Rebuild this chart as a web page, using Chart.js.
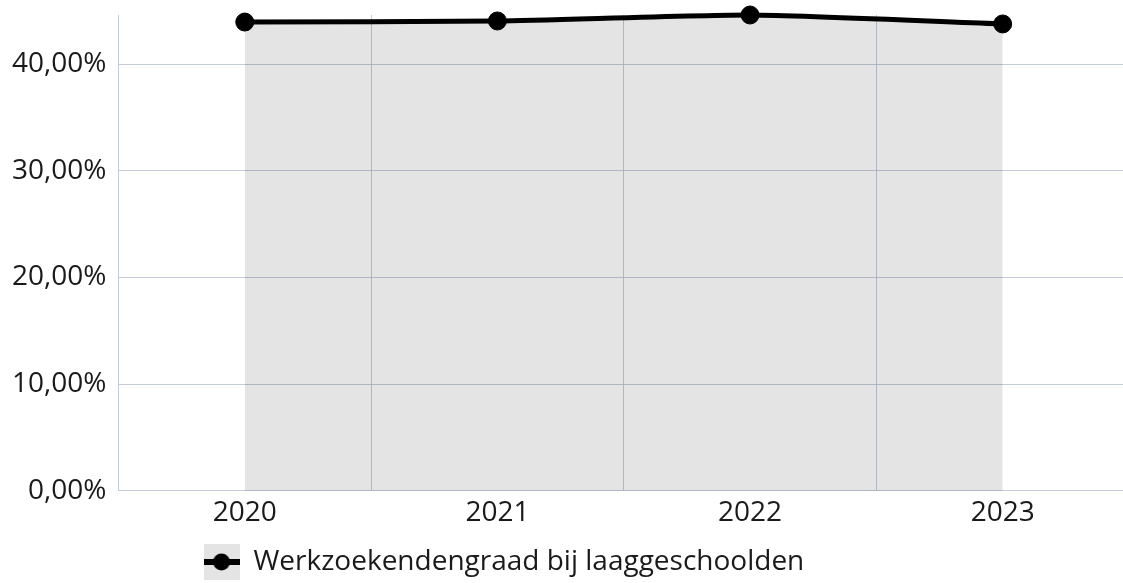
<!DOCTYPE html>
<html>
<head>
<meta charset="utf-8">
<script src="https://cdn.jsdelivr.net/npm/chart.js@4"></script>
<style>
  html, body { margin: 0; padding: 0; background: #fff; overflow: hidden; }
  .js-chart-container { position: relative; width: 1129px; height: 583px; }
</style>
</head>
<body>
<div class="js-chart-container"><canvas id="chart" width="1129" height="583"></canvas></div>
<script>
const years = ['2020', '2021', '2022', '2023']
const rates = [43.94, 44.04, 44.6, 43.76]
const seriesLabel = 'Werkzoekendengraad bij laaggeschoolden'

const gridColor = '#c4ccda'
const fillColor = 'rgba(0, 0, 0, 0.105)'

Chart.defaults.font.family = "'Open Sans', 'Noto Sans', sans-serif"
Chart.defaults.font.size = 28
Chart.defaults.color = '#1a1a1a'

// legend icon: grey square with the line and a dot through it
const icon = document.createElement('canvas')
icon.width = 36
icon.height = 36
const ictx = icon.getContext('2d')
ictx.fillStyle = '#e4e4e4'
ictx.fillRect(0, 0, 36, 36)
ictx.fillStyle = '#000'
ictx.fillRect(0, 15, 36, 6)
ictx.beginPath()
ictx.arc(18, 18, 8.5, 0, Math.PI * 2)
ictx.fill()

const formatPercent = (value) => `${Number(value).toFixed(2).replace('.', ',')}%`

// legend sits left of centre and low in the original, nudge it
const legendShift = {
  id: 'legendShift',
  afterLayout(chart) {
    const legend = chart.legend
    if (legend) {
      legend.left = 193
      legend.top += 3
      legend.bottom += 3
    }
  },
}

new Chart(document.getElementById('chart'), {
  type: 'line',
  data: {
    labels: years,
    datasets: [{
      label: seriesLabel,
      data: rates,
      borderColor: '#000',
      borderWidth: 5,
      backgroundColor: fillColor,
      fill: 'origin',
      tension: 0.2,
      pointRadius: 9,
      pointBorderWidth: 1,
      pointBackgroundColor: '#000',
      pointBorderColor: '#000',
      clip: false,
    }],
  },
  options: {
    responsive: false,
    animation: false,
    layout: {
      autoPadding: false,
      padding: { top: 15, right: 0, bottom: 0, left: 0 },
    },
    scales: {
      x: {
        offset: true,
        grid: { offset: true, color: gridColor, drawTicks: false },
        border: { color: gridColor },
        ticks: { padding: 5 },
      },
      y: {
        min: 0,
        max: Math.max(...rates),
        grid: { color: gridColor, drawTicks: false },
        border: { color: gridColor },
        ticks: {
          stepSize: 10,
          includeBounds: false,
          padding: 12,
          // small line height so the top label does not push the plot down
          font: { lineHeight: 0.2 },
          callback: (value) => formatPercent(value),
        },
      },
    },
    plugins: {
      legend: {
        position: 'bottom',
        align: 'start',
        labels: {
          usePointStyle: true,
          pointStyle: icon,
          pointStyleWidth: 36,
          boxHeight: 36,
          padding: 10.5,
        },
      },
      tooltip: { enabled: false },
    },
  },
  plugins: [legendShift],
})
</script>
</body>
</html>
